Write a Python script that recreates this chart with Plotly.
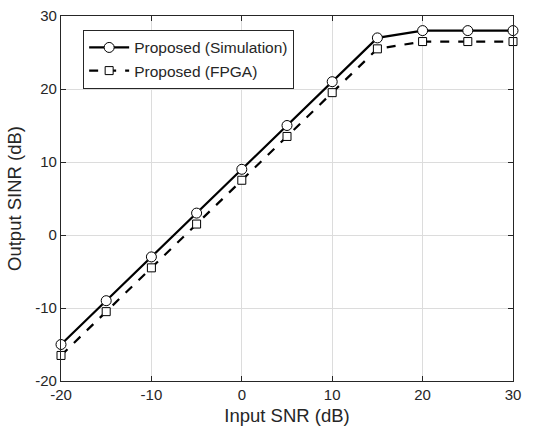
import plotly.graph_objects as go

snr_in = [-20, -15, -10, -5, 0, 5, 10, 15, 20, 25, 30]
sinr_sim = [-15, -9, -3, 3, 9, 15, 21, 27, 28, 28, 28]
sinr_fpga = [-16.5, -10.5, -4.5, 1.5, 7.5, 13.5, 19.5, 25.5, 26.5, 26.5, 26.5]
tick_vals = [-20, -10, 0, 10, 20, 30]
tick_text = ["-20", "-10", "0", "10", "20", "30"]

fig = go.Figure()
fig.add_trace(go.Scatter(
    x=snr_in, y=sinr_sim, mode="lines+markers", name="Proposed (Simulation)",
    line=dict(color="black", width=2.2),
    marker=dict(symbol="circle", size=10, color="white", line=dict(color="black", width=1)),
    cliponaxis=False,
))
fig.add_trace(go.Scatter(
    x=snr_in, y=sinr_fpga, mode="lines+markers", name="Proposed (FPGA)",
    line=dict(color="black", width=2.2, dash="dash"),
    marker=dict(symbol="square", size=8, color="white", line=dict(color="black", width=1)),
    cliponaxis=False,
))

axis_common = dict(
    showline=True, linecolor="#262626", linewidth=1.2, mirror="ticks",
    ticks="inside", ticklen=5, tickcolor="#262626",
    showgrid=True, gridcolor="#dcdcdc", gridwidth=1, zeroline=False,
    tickfont=dict(size=15, color="#262626", family="Liberation Sans, Arial"),
    tickvals=tick_vals, ticktext=tick_text, automargin=False,
)
fig.update_xaxes(range=[-20, 30], title=dict(text="Input SNR (dB)", font=dict(size=18.5, color="#262626"), standoff=6), **axis_common)
fig.update_yaxes(range=[-20, 30], title=dict(text="Output SINR (dB)", font=dict(size=18.5, color="#262626"), standoff=8), **axis_common)

fig.update_layout(
    width=540, height=432,
    margin=dict(l=61, r=27, t=16, b=51),
    paper_bgcolor="white", plot_bgcolor="white",
    font=dict(family="Liberation Sans, Arial", color="#262626"),
    legend=dict(x=0.049, y=0.962, xanchor="left", yanchor="top",
                bgcolor="white", bordercolor="#262626", borderwidth=1,
                font=dict(size=15.5, color="#262626"), tracegroupgap=0,
                itemwidth=40),
    showlegend=True,
)
fig.write_html("out.html", config={"displayModeBar": False},
               post_script="document.body.style.margin='0';")
